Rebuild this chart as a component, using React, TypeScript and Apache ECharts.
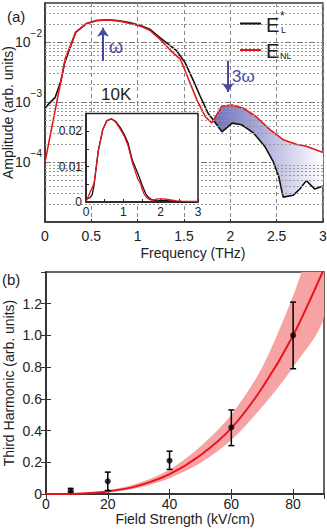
import React, { useEffect, useRef } from 'react';
import * as echarts from 'echarts';

const FONT = 'Liberation Sans, Arial, sans-serif';
const BLUE = '#4a4aa6';
const RED = '#e8141c';

// Panel (a): spectra [frequency THz, amplitude]
const spectrumL: [number, number][] = [
  [0, 8.0e-4], [0.11, 1.2e-3], [0.17, 2.2e-3], [0.21, 4.4e-3], [0.33, 1.45e-2],
  [0.45, 2.05e-2], [0.56, 2.3e-2], [0.68, 2.35e-2], [0.8, 2.27e-2], [0.92, 2.1e-2],
  [1.03, 1.9e-2], [1.13, 1.65e-2], [1.24, 1.19e-2], [1.42, 7.2e-3], [1.51, 4.6e-3],
  [1.6, 2.3e-3], [1.67, 1.3e-3], [1.76, 6.5e-4], [1.91, 3.2e-4], [2.02, 4.46e-4],
  [2.12, 4.2e-4], [2.25, 3.05e-4], [2.37, 1.84e-4], [2.46, 1.04e-4], [2.52, 5.9e-5],
  [2.57, 2.6e-5], [2.68, 2.8e-5], [2.75, 3.55e-5], [2.82, 4.9e-5], [2.91, 3.55e-5],
  [3.0, 4.0e-5],
];
const spectrumNL: [number, number][] = [
  [0, 1.0e-4], [0.22, 5.4e-3], [0.33, 1.45e-2], [0.45, 2.05e-2], [0.56, 2.3e-2],
  [0.68, 2.35e-2], [0.8, 2.25e-2], [0.92, 2.05e-2], [1.03, 1.85e-2], [1.13, 1.58e-2],
  [1.24, 1.12e-2], [1.38, 6.7e-3], [1.46, 5.2e-3], [1.51, 3.4e-3], [1.57, 2.0e-3],
  [1.64, 1.08e-3], [1.73, 5.7e-4], [1.8, 4.5e-4], [1.91, 8.6e-4], [2.02, 8.9e-4],
  [2.14, 7.9e-4], [2.28, 5.7e-4], [2.43, 3.45e-4], [2.57, 2.36e-4], [2.72, 1.96e-4],
  [2.82, 1.84e-4], [3.0, 1.45e-4],
];
const bandCrossing: [number, number] = [1.82, 5.0e-4];
const omegaArrow = { x: 0.626, from: 4.9e-3, to: 1.74e-2 };
const thirdArrow = { x: 1.975, from: 4.9e-3, to: 1.48e-3 };

// Panel (b): third harmonic vs field strength
const fieldStrength = [8, 20, 40, 60, 80];
const thirdHarmonic = [0.022, 0.08, 0.21, 0.42, 1.0];
const thLow = [0.012, 0.022, 0.155, 0.305, 0.79];
const thHigh = [0.035, 0.138, 0.27, 0.53, 1.21];

const fitField = [0, 10, 20, 30, 40, 50, 60, 70, 80, 90];
const fitValue = [0, 0.002, 0.016, 0.053, 0.125, 0.244, 0.415, 0.67, 1.0, 1.42];
const fitUpper = [0, 0.0035, 0.024, 0.07, 0.155, 0.3, 0.5, 0.8, 1.25, 1.77];
const fitLower = [0, 0.0012, 0.012, 0.04, 0.1, 0.195, 0.34, 0.55, 0.8, 1.12];

export default function App() {
  const ref = useRef<HTMLDivElement>(null);
  useEffect(() => {
    document.body.style.margin = '0';
    const chart = echarts.init(ref.current!, null, { renderer: 'svg' });

    const minorGrid: number[] = [];
    for (let d = -5; d <= -2; d++) {
      for (let k = 2; k <= 9; k++) {
        const v = k * Math.pow(10, d);
        if (v < 0.045) minorGrid.push(v);
      }
    }

    const txt = (text: string, x: number, y: number, fontSize: number, fill = '#222', align = 'left') => ({
      type: 'text', x, y, z: 20,
      style: { text, fontSize, fontFamily: FONT, fill, align, verticalAlign: 'middle' },
    });

    const axisLineStyle = { color: '#333', width: 1.5 };
    const labelStyle = { fontSize: 14, fontFamily: FONT, color: '#222' };

    const option: any = {
      animation: false,
      grid: [
        { left: 45, top: 3, width: 278, height: 219, show: true, borderColor: '#333', borderWidth: 1.5, z: 0, containLabel: false, outerBoundsMode: 'none' },
        { left: 86, top: 113.5, width: 112, height: 88.5, show: true, borderColor: '#222', borderWidth: 1.5, backgroundColor: '#fff', z: 6, containLabel: false, outerBoundsMode: 'none' },
        { left: 46, top: 272, width: 278, height: 222, show: true, borderColor: '#333', borderWidth: 1.5, containLabel: false, outerBoundsMode: 'none' },
      ],
      xAxis: [
        {
          gridIndex: 0, type: 'value', min: 0, max: 3, interval: 0.5,
          axisLine: { show: true, lineStyle: axisLineStyle },
          axisTick: { inside: true, length: 3, lineStyle: { color: '#333' } },
          axisLabel: { ...labelStyle, margin: 7 },
          splitLine: { show: true, lineStyle: { color: '#888', type: [4, 3], width: 1 } },
          name: 'Frequency (THz)', nameLocation: 'middle', nameGap: 24,
          nameTextStyle: { ...labelStyle, padding: [0, 0, 0, 18] },
        },
        {
          gridIndex: 1, type: 'value', min: 0, max: 3, interval: 0.5, z: 7,
          axisLine: { show: true, lineStyle: { color: '#222', width: 1.5 } },
          axisTick: { inside: true, length: 3, lineStyle: { color: '#222' } },
          axisLabel: {
            fontSize: 12, fontFamily: FONT, color: '#222', margin: 4,
            formatter: (v: number) => (Math.abs(v - Math.round(v)) < 1e-6 ? String(Math.round(v)) : ''),
          },
          splitLine: { show: false },
        },
        {
          gridIndex: 2, type: 'value', min: 0, max: 90, interval: 20,
          axisLine: { show: true, lineStyle: axisLineStyle },
          axisTick: { inside: true, length: 5, lineStyle: { color: '#333' } },
          axisLabel: { ...labelStyle, margin: 3, showMaxLabel: false },
          splitLine: { show: false },
          name: 'Field Strength (kV/cm)', nameLocation: 'middle', nameGap: 16,
          nameTextStyle: { ...labelStyle },
        },
        {
          gridIndex: 2, type: 'value', min: 0, max: 90, interval: 20, position: 'top',
          axisLine: { show: true, lineStyle: axisLineStyle },
          axisTick: { inside: true, length: 5, lineStyle: { color: '#333' } },
          axisLabel: { show: false },
          splitLine: { show: false },
        },
      ],
      yAxis: [
        {
          gridIndex: 0, type: 'log', logBase: 10, min: 1e-5, max: 0.045,
          axisLine: { show: true, lineStyle: axisLineStyle },
          axisTick: { show: false },
          axisLabel: {
            margin: 3,
            formatter: (v: number) => {
              const e = Math.log10(v);
              const r = Math.round(e);
              if (Math.abs(e - r) > 1e-6 || r <= -5) return '';
              return `{b|10}{s|−${-r}}`;
            },
            rich: {
              b: { fontSize: 14, fontFamily: FONT, color: '#222' },
              s: { fontSize: 10, fontFamily: FONT, color: '#222', padding: [0, 0, 18, 0] },
            },
          },
          splitLine: { show: true, lineStyle: { color: '#777', type: [6, 2, 2, 2], width: 1.2 } },
          name: 'Amplitude (arb. units)', nameLocation: 'middle', nameGap: 30, nameMoveOverlap: false,
          nameTextStyle: { ...labelStyle },
        },
        {
          gridIndex: 1, type: 'value', min: 0, max: 0.025, interval: 0.005, z: 7,
          axisLine: { show: true, lineStyle: { color: '#222', width: 1.5 } },
          axisTick: { inside: true, length: 3, lineStyle: { color: '#222' } },
          axisLabel: {
            fontSize: 12, fontFamily: FONT, color: '#222', margin: 4,
            formatter: (v: number) => {
              if (v === 0) return '0';
              const h = v * 100;
              return Math.abs(h - Math.round(h)) < 1e-6 ? v.toFixed(2) : '';
            },
          },
          splitLine: { show: false },
        },
        {
          gridIndex: 2, type: 'value', min: 0, max: 1.4, interval: 0.2,
          axisLine: { show: true, lineStyle: axisLineStyle },
          axisTick: { inside: true, length: 5, lineStyle: { color: '#333' } },
          axisLabel: {
            ...labelStyle, margin: 4, showMaxLabel: false,
            formatter: (v: number) => (v === 0 ? '0' : v.toFixed(1)),
          },
          splitLine: { show: false },
          name: 'Third Harmonic (arb. units)', nameLocation: 'middle', nameGap: 30, nameMoveOverlap: false,
          nameTextStyle: { ...labelStyle },
        },
        {
          gridIndex: 2, type: 'value', min: 0, max: 1.4, interval: 0.2, position: 'right',
          axisLine: { show: true, lineStyle: axisLineStyle },
          axisTick: { inside: true, length: 5, lineStyle: { color: '#333' } },
          axisLabel: { show: false },
          splitLine: { show: false },
        },
      ],
      series: [
        {
          name: 'minor grid', type: 'line', xAxisIndex: 0, yAxisIndex: 0, z: 1,
          data: [[0, 1e-5]], symbol: 'none', lineStyle: { opacity: 0 }, silent: true,
          markLine: {
            silent: true, symbol: ['none', 'none'], label: { show: false }, precision: 12,
            lineStyle: { color: '#999', type: [2, 2], width: 1 },
            data: minorGrid.map((v) => ({ yAxis: v })),
          },
        },
        {
          name: 'band', type: 'custom', xAxisIndex: 0, yAxisIndex: 0, z: 2,
          data: [[2.5, 1e-4]],
          renderItem: (params: any, api: any) => {
            if (params.dataIndex !== 0) return null;
            const pts: number[][] = [api.coord(bandCrossing)];
            spectrumNL.filter((p) => p[0] > bandCrossing[0]).forEach((p) => pts.push(api.coord(p)));
            spectrumL.filter((p) => p[0] > bandCrossing[0]).reverse().forEach((p) => pts.push(api.coord(p)));
            return {
              type: 'polygon',
              shape: { points: pts },
              style: {
                fill: new echarts.graphic.LinearGradient(0, 0, 1, 0, [
                  { offset: 0, color: '#6e6ec0' },
                  { offset: 1, color: '#ffffff' },
                ]),
              },
            };
          },
        },
        {
          name: 'E_L*', type: 'line', xAxisIndex: 0, yAxisIndex: 0, z: 3,
          data: spectrumL, symbol: 'none', lineStyle: { color: '#111', width: 1.6 },
        },
        {
          name: 'E_NL', type: 'line', xAxisIndex: 0, yAxisIndex: 0, z: 4,
          data: spectrumNL, symbol: 'none', lineStyle: { color: RED, width: 1.6 },
        },
        {
          name: 'arrows', type: 'line', xAxisIndex: 0, yAxisIndex: 0, z: 5,
          data: [[0, 1e-5]], symbol: 'none', lineStyle: { opacity: 0 }, silent: true,
          markLine: {
            silent: true, symbol: ['none', 'arrow'], symbolSize: 9, label: { show: false }, precision: 12,
            lineStyle: { color: BLUE, width: 2, type: 'solid' },
            data: [
              [{ coord: [omegaArrow.x, omegaArrow.from] }, { coord: [omegaArrow.x, omegaArrow.to] }],
              [{ coord: [thirdArrow.x, thirdArrow.from] }, { coord: [thirdArrow.x, thirdArrow.to] }],
            ],
          },
        },
        {
          name: 'E_L* inset', type: 'line', xAxisIndex: 1, yAxisIndex: 1, z: 8,
          data: spectrumL, symbol: 'none', lineStyle: { color: '#111', width: 1.3 },
        },
        {
          name: 'E_NL inset', type: 'line', xAxisIndex: 1, yAxisIndex: 1, z: 9,
          data: spectrumNL, symbol: 'none', lineStyle: { color: RED, width: 1.3 },
        },
        {
          name: 'fit band', type: 'custom', xAxisIndex: 2, yAxisIndex: 2, z: 2, clip: true,
          data: [[45, 0.5]],
          renderItem: (params: any, api: any) => {
            if (params.dataIndex !== 0) return null;
            const pts: number[][] = [];
            fitField.forEach((e, i) => pts.push(api.coord([e, fitUpper[i]])));
            for (let i = fitField.length - 1; i >= 0; i--) pts.push(api.coord([fitField[i], fitLower[i]]));
            return {
              type: 'polygon',
              shape: { points: pts, smooth: 0.3 },
              style: { fill: '#f8a3a3' },
            };
          },
        },
        {
          name: 'fit', type: 'line', xAxisIndex: 2, yAxisIndex: 2, z: 3, smooth: 0.3,
          data: fitField.map((e, i) => [e, fitValue[i]]), symbol: 'none',
          lineStyle: { color: RED, width: 2 },
        },
        {
          name: 'error bars', type: 'custom', xAxisIndex: 2, yAxisIndex: 2, z: 4,
          data: fieldStrength.map((e, i) => [e, thLow[i], thHigh[i]]),
          encode: { x: 0, y: [1, 2] },
          renderItem: (params: any, api: any) => {
            const x = api.value(0);
            const lo = api.coord([x, api.value(1)]);
            const hi = api.coord([x, api.value(2)]);
            const w = 3;
            const s = { stroke: '#000', lineWidth: 1.5 };
            return {
              type: 'group',
              children: [
                { type: 'line', shape: { x1: lo[0], y1: lo[1], x2: hi[0], y2: hi[1] }, style: s },
                { type: 'line', shape: { x1: lo[0] - w, y1: lo[1], x2: lo[0] + w, y2: lo[1] }, style: s },
                { type: 'line', shape: { x1: hi[0] - w, y1: hi[1], x2: hi[0] + w, y2: hi[1] }, style: s },
              ],
            };
          },
        },
        {
          name: 'data', type: 'scatter', xAxisIndex: 2, yAxisIndex: 2, z: 5,
          data: fieldStrength.map((e, i) => [e, thirdHarmonic[i]]),
          symbolSize: 6, itemStyle: { color: '#000' },
        },
      ],
      graphic: [
        txt('(a)', 7, 16, 15),
        txt('(b)', 2, 279, 15),
        txt('10K', 101, 94, 17),
        txt('ω', 109, 47, 18, BLUE),
        txt('3ω', 232, 76, 17, BLUE),
        { type: 'line', z: 20, shape: { x1: 240, y1: 23.5, x2: 261, y2: 23.5 }, style: { stroke: '#111', lineWidth: 2 } },
        txt('E', 266, 24.5, 20),
        txt('*', 280, 16, 12),
        txt('L', 281, 30, 9),
        { type: 'line', z: 20, shape: { x1: 240, y1: 50, x2: 261, y2: 50 }, style: { stroke: RED, lineWidth: 2 } },
        txt('E', 266, 50.5, 20),
        txt('NL', 280, 55.5, 9),
      ],
    };

    chart.setOption(option);
    return () => chart.dispose();
  }, []);
  return <div ref={ref} style={{ width: 327, height: 529, position: 'absolute', left: 0, top: 0 }} />;
}
